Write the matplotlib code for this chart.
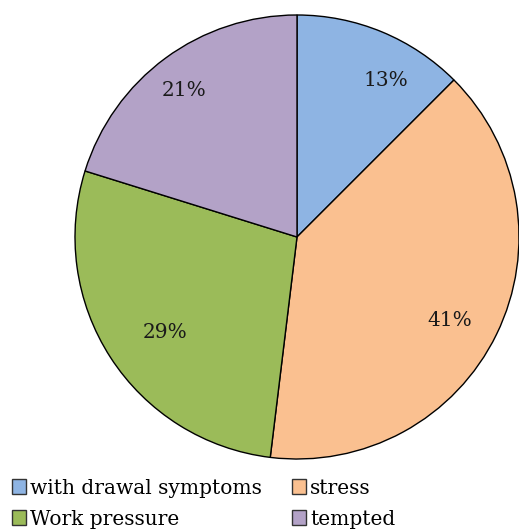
import matplotlib
matplotlib.use("Agg")
import matplotlib.pyplot as plt
from matplotlib.patches import Patch

labels = ["with drawal symptoms", "stress", "Work pressure", "tempted"]
values = [13, 41, 29, 21]
colors = ["#8EB4E3", "#FAC090", "#9BBB59", "#B3A2C7"]
# label anchor offsets (fraction of radius) mimicking the reference's best-fit placement
label_pos = [(0.40, 0.707), (0.689, -0.378), (-0.595, -0.432), (-0.509, 0.662)]

plt.rcParams['font.family'] = ['DejaVu Serif']

fig = plt.figure(figsize=(5.19, 5.31), dpi=100)
W, H = 519, 531
cx, cy, r = 297, 237, 222
ax = fig.add_axes([(cx - r) / W, (H - cy - r) / H, 2 * r / W, 2 * r / H])
wedges, texts = ax.pie(values, colors=colors, startangle=90, counterclock=False,
       wedgeprops=dict(edgecolor="black", linewidth=1.0))
for v, (px, py) in zip(values, label_pos):
    ax.text(px, py, f"{v}%", ha='center', va='center', fontsize=14.5, color="#1a1a1a")
ax.set_xlim(-1, 1)
ax.set_ylim(-1, 1)
ax.set_aspect('equal')
ax.axis('off')

order = [0, 2, 1, 3]
handles = [Patch(facecolor=colors[i], edgecolor="#333333", linewidth=1.0) for i in order]
fig.legend(handles, [labels[i] for i in order], ncol=2, loc='lower left',
           bbox_to_anchor=(-0.004, -0.022), frameon=False, fontsize=14.5,
           handlelength=0.7, handleheight=0.7, handletextpad=0.2, columnspacing=1.5,
           labelspacing=0.6, borderpad=0.2)

fig.savefig("out.png", dpi=100)
